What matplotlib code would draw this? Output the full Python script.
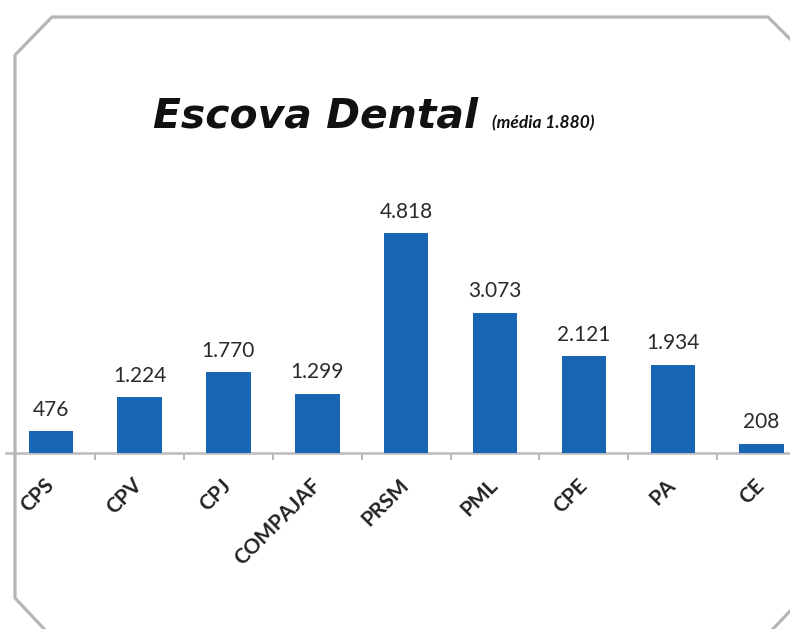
import matplotlib
matplotlib.use("Agg")
import matplotlib.pyplot as plt
from matplotlib.lines import Line2D

categories = ["CPS", "CPV", "CPJ", "COMPAJAF", "PRSM", "PML", "CPE", "PA", "CE"]
values = [476, 1224, 1770, 1299, 4818, 3073, 2121, 1934, 208]
title_main = "Escova Dental"
title_sub = "(média 1.880)"

W, H = 790, 629
fig = plt.figure(figsize=(W / 100, H / 100), dpi=100)
fig.patch.set_facecolor("white")

# axes geometry in pixels
x_left, x_right = 6.3, 806.0
y_base, y_top = 453.0, 40.0
px_per_unit = 220.0 / 4818
ymax = (y_base - y_top) / px_per_unit
ax = fig.add_axes([x_left / W, (H - y_base) / H, (x_right - x_left) / W, (y_base - y_top) / H])
ax.set_xlim(-0.5, len(categories) - 0.5)
ax.set_ylim(0, ymax)
ax.set_facecolor("none")

xs = list(range(len(categories)))
bars = ax.bar(xs, values, width=0.5, color="#1765B3", zorder=3)

for x, v in zip(xs, values):
    lbl = f"{v:,}".replace(",", ".")
    ax.annotate(lbl, (x, v), xytext=(0, 11), textcoords="offset points",
                ha="center", va="baseline", fontsize=15, color="#2a2a2a",
                family="Lato")

for s in ["top", "right", "left"]:
    ax.spines[s].set_visible(False)
ax.spines["bottom"].set_color("#BBBBBB")
ax.spines["bottom"].set_linewidth(1.8)
ax.set_yticks([])
ax.set_xticks([i + 0.5 for i in range(len(categories) - 1)], minor=False)
ax.tick_params(axis="x", which="major", length=5, width=1.2, color="#AAAAAA", labelbottom=False)
ax.set_xticks(xs, minor=True)
ax.set_xticklabels(categories, minor=True, rotation=45, ha="right", rotation_mode="anchor",
                   fontsize=15, fontweight="bold", color="#222222", family="Lato")
ax.tick_params(axis="x", which="minor", length=0, pad=21)
for t in ax.get_xticklabels(minor=True):
    t.set_va("center")

# title
fig.canvas.draw()
r = fig.canvas.get_renderer()
t1 = fig.text(153 / W, 1 - 128 / H, title_main, fontsize=26, fontweight="bold", fontstyle="italic",
              family="DejaVu Sans", color="#111111", ha="left", va="baseline")
w1 = t1.get_window_extent(r).width
t1.set_fontsize(26 * 335.0 / w1 * 0.97)
t2 = fig.text(492 / W, 1 - 128 / H, title_sub, fontsize=12.5, fontweight="bold", fontstyle="italic",
              family="Lato", color="#111111", ha="left", va="baseline")

# border with cut corners
pts = [(47, 632), (15, 598), (15, 55), (52, 17), (768, 17), (793, 42)]
fig.add_artist(Line2D([p[0] / W for p in pts], [1 - p[1] / H for p in pts],
                      transform=fig.transFigure, color="#B5B5B5", lw=2.3, clip_on=False))
pts2 = [(770, 632), (793, 608)]
fig.add_artist(Line2D([p[0] / W for p in pts2], [1 - p[1] / H for p in pts2],
                      transform=fig.transFigure, color="#B5B5B5", lw=2.3, clip_on=False))

fig.savefig("out.png", dpi=100, facecolor="white")
